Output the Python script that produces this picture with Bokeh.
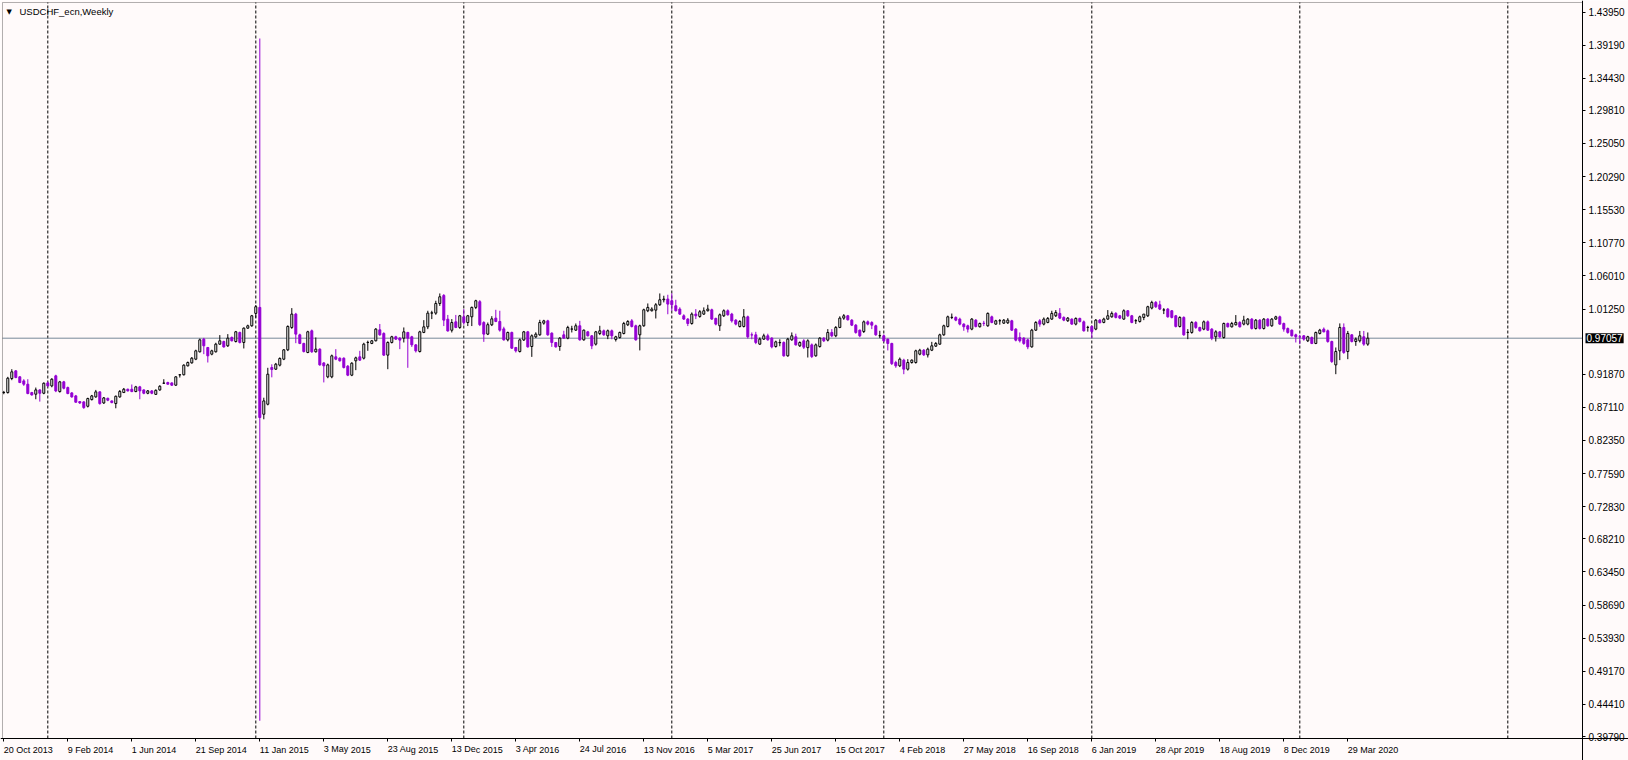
import pandas as pd
from bokeh.plotting import figure
from bokeh.models import (Range1d, FixedTicker, NumeralTickFormatter, Label,
                          BoxAnnotation, ColumnDataSource)
from bokeh.embed import file_html
from bokeh.resources import INLINE

# ---------------- data ----------------
symbol_title = "USDCHF_ecn,Weekly"
first_week = "2013-10-20"   # date of bar 0 (weekly bars, Sundays)
last_price = 0.97057

open_ = [
    0.8924, 0.8924, 0.9126, 0.9236, 0.9150, 0.9092, 0.9044, 0.8924, 0.8900, 0.8962,
    0.8914, 0.9063, 0.9020, 0.9164, 0.8938, 0.9078, 0.8996, 0.8919, 0.8876, 0.8794,
    0.8790, 0.8727, 0.8823, 0.8862, 0.8934, 0.8775, 0.8842, 0.8804, 0.8766, 0.8862,
    0.8924, 0.8972, 0.8972, 0.8938, 0.9006, 0.8962, 0.8914, 0.8948, 0.8898, 0.8962,
    0.9058, 0.9068, 0.9063, 0.9030, 0.9178, 0.9180, 0.9308, 0.9351, 0.9404, 0.9510,
    0.9692, 0.9572, 0.9476, 0.9510, 0.9620, 0.9658, 0.9596, 0.9716, 0.9658, 0.9788,
    0.9644, 0.9850, 0.9884, 1.0062, 1.0148, 0.8612, 0.8756, 0.9284, 0.9260, 0.9318,
    0.9404, 0.9538, 0.9860, 1.0052, 0.9754, 0.9630, 0.9500, 0.9812, 0.9510, 0.9548,
    0.9350, 0.9150, 0.9150, 0.9438, 0.9418, 0.9418, 0.9303, 0.9174, 0.9380, 0.9438,
    0.9418, 0.9644, 0.9630, 0.9668, 0.9826, 0.9774, 0.9462, 0.9644, 0.9726, 0.9706,
    0.9706, 0.9788, 0.9726, 0.9610, 0.9514, 0.9788, 0.9869, 1.0066, 1.0066, 1.0205,
    1.0320, 0.9979, 0.9820, 0.9941, 0.9860, 1.0013, 0.9931, 1.0013, 1.0148, 1.0230,
    0.9931, 0.9764, 0.9898, 0.9994, 0.9946, 0.9840, 0.9682, 0.9788, 0.9572, 0.9514,
    0.9680, 0.9797, 0.9586, 0.9725, 0.9754, 0.9922, 0.9955, 0.9778, 0.9644, 0.9586,
    0.9754, 0.9706, 0.9836, 0.9821, 0.9884, 0.9682, 0.9797, 0.9740, 0.9620, 0.9773,
    0.9812, 0.9740, 0.9812, 0.9687, 0.9716, 0.9773, 0.9898, 0.9955, 0.9884, 0.9754,
    0.9884, 1.0100, 1.0100, 1.0109, 1.0186, 1.0258, 1.0268, 1.0244, 1.0172, 1.0124,
    1.0028, 0.9980, 0.9917, 1.0052, 1.0018, 1.0052, 1.0100, 1.0114, 0.9990, 0.9884,
    1.0028, 1.0100, 1.0052, 0.9965, 0.9874, 0.9874, 1.0013, 0.9754, 0.9754, 0.9620,
    0.9692, 0.9740, 0.9706, 0.9586, 0.9640, 0.9644, 0.9452, 0.9682, 0.9726, 0.9596,
    0.9668, 0.9570, 0.9610, 0.9452, 0.9586, 0.9706, 0.9678, 0.9788, 0.9740, 0.9860,
    0.9994, 1.0028, 0.9965, 0.9893, 0.9821, 0.9802, 0.9941, 0.9931, 0.9884, 0.9740,
    0.9740, 0.9692, 0.9630, 0.9356, 0.9308, 0.9390, 0.9260, 0.9356, 0.9356, 0.9476,
    0.9533, 0.9466, 0.9533, 0.9591, 0.9620, 0.9754, 0.9874, 1.0004, 1.0004, 0.9980,
    0.9908, 0.9884, 0.9836, 0.9965, 0.9870, 0.9920, 0.9884, 1.0013, 0.9908, 0.9956,
    0.9922, 0.9927, 0.9956, 0.9836, 0.9716, 0.9706, 0.9682, 0.9581, 0.9821, 0.9956,
    0.9908, 0.9932, 0.9980, 1.0028, 1.0062, 1.0004, 0.9956, 0.9980, 0.9908, 0.9990,
    0.9941, 0.9860, 0.9874, 0.9836, 0.9965, 0.9932, 0.9980, 1.0013, 1.0062, 1.0028,
    0.9980, 1.0100, 1.0028, 0.9956, 0.9946, 1.0004, 1.0028, 1.0139, 1.0220, 1.0186,
    1.0110, 1.0124, 1.0100, 1.0028, 0.9874, 1.0004, 0.9788, 0.9788, 0.9932, 0.9860,
    0.9836, 0.9941, 0.9836, 0.9726, 0.9797, 0.9716, 0.9917, 0.9869, 0.9898, 0.9932,
    0.9908, 0.9908, 0.9980, 0.9845, 0.9965, 0.9845, 0.9980, 0.9884, 0.9980, 1.0013,
    0.9917, 0.9845, 0.9821, 0.9754, 0.9726, 0.9740, 0.9668, 0.9716, 0.9630, 0.9774,
    0.9836, 0.9812, 0.9658, 0.9322, 0.9524, 0.9860, 0.9514, 0.9754, 0.9658, 0.9668,
    0.9726, 0.9620,
]

high = [
    0.8948, 0.9150, 0.9260, 0.9245, 0.9160, 0.9116, 0.9116, 0.8934, 0.8996, 0.8970,
    0.9070, 0.9080, 0.9130, 0.9180, 0.9092, 0.9092, 0.9010, 0.8930, 0.8890, 0.8800,
    0.8800, 0.8850, 0.8890, 0.8962, 0.8940, 0.8860, 0.8850, 0.8810, 0.8880, 0.8960,
    0.8990, 0.8980, 0.9040, 0.9020, 0.9020, 0.8970, 0.8960, 0.8960, 0.8970, 0.9030,
    0.9116, 0.9080, 0.9070, 0.9160, 0.9188, 0.9330, 0.9370, 0.9435, 0.9540, 0.9700,
    0.9710, 0.9580, 0.9540, 0.9640, 0.9750, 0.9670, 0.9764, 0.9730, 0.9810, 0.9800,
    0.9860, 0.9900, 1.0040, 1.0180, 1.4014, 0.8850, 0.9280, 0.9330, 0.9350, 0.9430,
    0.9550, 0.9890, 1.0138, 1.0070, 0.9770, 0.9640, 0.9812, 0.9830, 0.9716, 0.9560,
    0.9360, 0.9340, 0.9470, 0.9548, 0.9430, 0.9430, 0.9320, 0.9360, 0.9440, 0.9524,
    0.9640, 0.9670, 0.9680, 0.9850, 0.9910, 0.9790, 0.9660, 0.9740, 0.9740, 0.9720,
    0.9860, 0.9797, 0.9740, 0.9620, 0.9812, 0.9965, 1.0100, 1.0100, 1.0244, 1.0349,
    1.0340, 1.0040, 0.9980, 1.0040, 1.0040, 1.0124, 1.0040, 1.0160, 1.0258, 1.0253,
    0.9950, 0.9931, 1.0022, 1.0114, 1.0100, 0.9870, 0.9800, 0.9800, 0.9580, 0.9700,
    0.9810, 0.9810, 0.9760, 0.9790, 0.9970, 0.9970, 0.9970, 0.9790, 0.9650, 0.9720,
    0.9812, 0.9884, 0.9884, 0.9917, 0.9955, 0.9830, 0.9810, 0.9750, 0.9810, 0.9884,
    0.9830, 0.9830, 0.9830, 0.9740, 0.9800, 0.9940, 0.9965, 0.9980, 0.9900, 0.9900,
    1.0130, 1.0205, 1.0150, 1.0210, 1.0349, 1.0316, 1.0330, 1.0349, 1.0258, 1.0150,
    1.0050, 0.9994, 1.0076, 1.0124, 1.0110, 1.0148, 1.0186, 1.0130, 1.0000, 1.0060,
    1.0120, 1.0120, 1.0070, 0.9980, 0.9965, 1.0124, 1.0030, 0.9788, 0.9797, 0.9716,
    0.9770, 0.9770, 0.9720, 0.9670, 0.9690, 0.9660, 0.9710, 0.9788, 0.9770, 0.9660,
    0.9692, 0.9690, 0.9630, 0.9630, 0.9720, 0.9720, 0.9836, 0.9836, 0.9880, 1.0020,
    1.0052, 1.0040, 0.9980, 0.9910, 0.9830, 0.9960, 0.9960, 0.9950, 0.9900, 0.9812,
    0.9760, 0.9700, 0.9640, 0.9380, 0.9428, 0.9410, 0.9404, 0.9400, 0.9540, 0.9553,
    0.9550, 0.9570, 0.9653, 0.9650, 0.9770, 0.9900, 1.0030, 1.0060, 1.0020, 1.0000,
    0.9920, 0.9900, 0.9994, 0.9980, 0.9930, 0.9955, 1.0076, 1.0030, 0.9970, 0.9980,
    0.9980, 0.9994, 0.9970, 0.9850, 0.9788, 0.9720, 0.9700, 0.9840, 0.9950, 0.9980,
    1.0004, 1.0010, 1.0100, 1.0110, 1.0138, 1.0020, 1.0010, 0.9990, 1.0004, 1.0000,
    0.9960, 0.9884, 0.9890, 0.9980, 0.9980, 1.0000, 1.0110, 1.0090, 1.0080, 1.0040,
    1.0120, 1.0110, 1.0040, 0.9980, 1.0030, 1.0052, 1.0172, 1.0244, 1.0240, 1.0244,
    1.0138, 1.0140, 1.0110, 1.0040, 1.0020, 1.0020, 0.9836, 0.9950, 0.9950, 0.9870,
    0.9960, 0.9960, 0.9850, 0.9820, 0.9810, 0.9930, 0.9930, 0.9940, 1.0038, 0.9950,
    1.0028, 0.9994, 0.9994, 0.9980, 0.9980, 0.9994, 0.9994, 0.9994, 1.0028, 1.0030,
    0.9930, 0.9860, 0.9830, 0.9770, 0.9754, 0.9750, 0.9740, 0.9730, 0.9800, 0.9840,
    0.9860, 0.9830, 0.9670, 0.9572, 0.9918, 0.9918, 0.9810, 0.9764, 0.9716, 0.9810,
    0.9810, 0.9788,
]

low = [
    0.8900, 0.8910, 0.9102, 0.9130, 0.9060, 0.9020, 0.8900, 0.8880, 0.8828, 0.8794,
    0.8900, 0.9010, 0.9000, 0.8930, 0.8924, 0.8970, 0.8900, 0.8850, 0.8780, 0.8760,
    0.8690, 0.8710, 0.8810, 0.8850, 0.8750, 0.8760, 0.8800, 0.8770, 0.8698, 0.8850,
    0.8920, 0.8940, 0.8930, 0.8930, 0.8828, 0.8900, 0.8900, 0.8900, 0.8890, 0.8950,
    0.9050, 0.9040, 0.9020, 0.9020, 0.9140, 0.9170, 0.9300, 0.9340, 0.9390, 0.9500,
    0.9476, 0.9356, 0.9460, 0.9500, 0.9610, 0.9570, 0.9580, 0.9660, 0.9644, 0.9630,
    0.9558, 0.9840, 0.9870, 1.0000, 0.4206, 0.8540, 0.8740, 0.9143, 0.9250, 0.9300,
    0.9390, 0.9520, 0.9840, 0.9634, 0.9620, 0.9500, 0.9490, 0.9495, 0.9500, 0.9310,
    0.9070, 0.9130, 0.9130, 0.9390, 0.9370, 0.9270, 0.9160, 0.9160, 0.9246, 0.9380,
    0.9400, 0.9524, 0.9620, 0.9660, 0.9740, 0.9450, 0.9260, 0.9630, 0.9680, 0.9548,
    0.9644, 0.9280, 0.9580, 0.9500, 0.9500, 0.9778, 0.9836, 0.9980, 1.0042, 1.0170,
    0.9880, 0.9800, 0.9788, 0.9850, 0.9840, 0.9900, 0.9880, 0.9880, 1.0124, 0.9880,
    0.9653, 0.9750, 0.9880, 0.9936, 0.9800, 0.9670, 0.9660, 0.9550, 0.9500, 0.9500,
    0.9666, 0.9570, 0.9437, 0.9710, 0.9740, 0.9900, 0.9740, 0.9581, 0.9570, 0.9524,
    0.9700, 0.9690, 0.9788, 0.9810, 0.9670, 0.9670, 0.9730, 0.9548, 0.9600, 0.9750,
    0.9740, 0.9692, 0.9690, 0.9658, 0.9700, 0.9760, 0.9880, 0.9860, 0.9670, 0.9530,
    0.9870, 1.0080, 1.0090, 0.9989, 1.0170, 1.0220, 1.0050, 1.0100, 1.0090, 1.0040,
    0.9970, 0.9880, 0.9900, 0.9980, 1.0000, 1.0040, 1.0090, 0.9970, 0.9890, 0.9810,
    1.0010, 1.0030, 0.9930, 0.9890, 0.9860, 0.9860, 0.9700, 0.9690, 0.9620, 0.9610,
    0.9680, 0.9670, 0.9560, 0.9570, 0.9590, 0.9440, 0.9440, 0.9670, 0.9600, 0.9580,
    0.9550, 0.9428, 0.9420, 0.9440, 0.9570, 0.9650, 0.9660, 0.9720, 0.9720, 0.9850,
    0.9970, 0.9960, 0.9880, 0.9770, 0.9720, 0.9780, 0.9890, 0.9836, 0.9740, 0.9706,
    0.9650, 0.9530, 0.9320, 0.9280, 0.9290, 0.9188, 0.9240, 0.9340, 0.9340, 0.9460,
    0.9450, 0.9428, 0.9520, 0.9580, 0.9610, 0.9740, 0.9860, 0.9980, 0.9950, 0.9890,
    0.9812, 0.9788, 0.9820, 0.9860, 0.9860, 0.9880, 0.9870, 0.9920, 0.9900, 0.9900,
    0.9910, 0.9910, 0.9810, 0.9660, 0.9644, 0.9610, 0.9548, 0.9570, 0.9810, 0.9870,
    0.9890, 0.9920, 0.9970, 1.0010, 0.9980, 0.9950, 0.9940, 0.9900, 0.9890, 0.9930,
    0.9800, 0.9800, 0.9706, 0.9820, 0.9920, 0.9920, 0.9970, 1.0000, 0.9990, 0.9980,
    0.9970, 1.0010, 0.9920, 0.9910, 0.9930, 0.9965, 1.0010, 1.0120, 1.0140, 1.0110,
    1.0052, 1.0000, 0.9990, 0.9860, 0.9860, 0.9740, 0.9692, 0.9770, 0.9840, 0.9800,
    0.9820, 0.9810, 0.9677, 0.9658, 0.9710, 0.9700, 0.9860, 0.9860, 0.9890, 0.9860,
    0.9890, 0.9890, 0.9830, 0.9830, 0.9830, 0.9830, 0.9870, 0.9870, 0.9970, 0.9900,
    0.9800, 0.9770, 0.9730, 0.9644, 0.9620, 0.9670, 0.9650, 0.9620, 0.9620, 0.9760,
    0.9790, 0.9640, 0.9350, 0.9188, 0.9390, 0.9480, 0.9404, 0.9644, 0.9596, 0.9644,
    0.9596, 0.9596,
]

close = [
    0.8926, 0.9130, 0.9222, 0.9140, 0.9068, 0.9044, 0.8910, 0.8890, 0.8962, 0.8914,
    0.9058, 0.9020, 0.9116, 0.8948, 0.9078, 0.8986, 0.8910, 0.8862, 0.8785, 0.8775,
    0.8708, 0.8838, 0.8876, 0.8934, 0.8766, 0.8847, 0.8814, 0.8780, 0.8871, 0.8940,
    0.8972, 0.8948, 0.8938, 0.9006, 0.8948, 0.8914, 0.8948, 0.8914, 0.8956, 0.9014,
    0.9060, 0.9044, 0.9030, 0.9150, 0.9180, 0.9318, 0.9356, 0.9418, 0.9524, 0.9682,
    0.9596, 0.9452, 0.9524, 0.9620, 0.9668, 0.9580, 0.9706, 0.9668, 0.9798, 0.9644,
    0.9850, 0.9884, 1.0028, 1.0158, 0.8565, 0.8804, 0.9188, 0.9255, 0.9332, 0.9414,
    0.9538, 0.9874, 1.0052, 0.9764, 0.9630, 0.9514, 0.9798, 0.9510, 0.9548, 0.9322,
    0.9308, 0.9322, 0.9452, 0.9404, 0.9380, 0.9284, 0.9174, 0.9346, 0.9423, 0.9390,
    0.9620, 0.9645, 0.9668, 0.9836, 0.9754, 0.9462, 0.9644, 0.9726, 0.9692, 0.9678,
    0.9797, 0.9706, 0.9610, 0.9524, 0.9797, 0.9869, 1.0066, 1.0070, 1.0205, 1.0301,
    0.9965, 0.9810, 0.9931, 0.9860, 1.0028, 0.9931, 1.0028, 1.0148, 1.0244, 0.9900,
    0.9764, 0.9900, 0.9984, 0.9946, 0.9821, 0.9682, 0.9788, 0.9562, 0.9524, 0.9682,
    0.9797, 0.9581, 0.9740, 0.9764, 0.9931, 0.9955, 0.9754, 0.9644, 0.9581, 0.9706,
    0.9706, 0.9860, 0.9838, 0.9884, 0.9682, 0.9821, 0.9740, 0.9596, 0.9797, 0.9812,
    0.9754, 0.9812, 0.9740, 0.9726, 0.9788, 0.9917, 0.9946, 0.9874, 0.9682, 0.9884,
    1.0114, 1.0148, 1.0124, 1.0186, 1.0258, 1.0268, 1.0196, 1.0186, 1.0100, 1.0052,
    0.9980, 0.9917, 1.0052, 1.0028, 1.0086, 1.0100, 1.0124, 0.9980, 0.9908, 1.0042,
    1.0100, 1.0042, 0.9955, 0.9908, 0.9946, 1.0013, 0.9725, 0.9752, 0.9644, 0.9692,
    0.9740, 0.9682, 0.9581, 0.9653, 0.9644, 0.9452, 0.9692, 0.9740, 0.9610, 0.9644,
    0.9576, 0.9668, 0.9442, 0.9610, 0.9706, 0.9668, 0.9788, 0.9740, 0.9860, 0.9994,
    1.0028, 0.9970, 0.9893, 0.9788, 0.9740, 0.9941, 0.9908, 0.9893, 0.9754, 0.9742,
    0.9668, 0.9630, 0.9340, 0.9308, 0.9404, 0.9260, 0.9356, 0.9390, 0.9524, 0.9533,
    0.9466, 0.9548, 0.9596, 0.9630, 0.9754, 0.9884, 1.0013, 1.0006, 0.9965, 0.9908,
    0.9870, 0.9836, 0.9980, 0.9874, 0.9917, 0.9918, 1.0062, 0.9932, 0.9956, 0.9957,
    0.9965, 0.9965, 0.9821, 0.9677, 0.9668, 0.9630, 0.9581, 0.9821, 0.9932, 0.9908,
    0.9980, 0.9990, 1.0062, 1.0076, 0.9994, 0.9965, 0.9994, 0.9908, 0.9990, 0.9946,
    0.9812, 0.9862, 0.9802, 0.9965, 0.9927, 0.9980, 1.0028, 1.0062, 1.0004, 0.9994,
    1.0100, 1.0028, 0.9932, 0.9958, 1.0013, 1.0052, 1.0158, 1.0220, 1.0158, 1.0124,
    1.0112, 1.0013, 1.0004, 0.9874, 1.0004, 0.9754, 0.9790, 0.9932, 0.9860, 0.9812,
    0.9941, 0.9821, 0.9706, 0.9797, 0.9726, 0.9917, 0.9869, 0.9917, 0.9932, 0.9869,
    0.9965, 0.9980, 0.9845, 0.9965, 0.9845, 0.9980, 0.9884, 0.9980, 1.0013, 0.9908,
    0.9836, 0.9788, 0.9740, 0.9726, 0.9724, 0.9692, 0.9726, 0.9630, 0.9788, 0.9821,
    0.9797, 0.9658, 0.9370, 0.9514, 0.9860, 0.9500, 0.9774, 0.9658, 0.9692, 0.9740,
    0.9620, 0.97057,
]

price_ticks = [1.43950, 1.39190, 1.34430, 1.29810, 1.25050, 1.20290, 1.15530, 1.10770,
               1.06010, 1.01250, 0.91870, 0.87110, 0.82350, 0.77590, 0.72830, 0.68210,
               0.63450, 0.58690, 0.53930, 0.49170, 0.44410, 0.39790]

date_tick_labels = ["20 Oct 2013", "9 Feb 2014", "1 Jun 2014", "21 Sep 2014", "11 Jan 2015",
                    "3 May 2015", "23 Aug 2015", "13 Dec 2015", "3 Apr 2016", "24 Jul 2016",
                    "13 Nov 2016", "5 Mar 2017", "25 Jun 2017", "15 Oct 2017", "4 Feb 2018",
                    "27 May 2018", "16 Sep 2018", "6 Jan 2019", "28 Apr 2019", "18 Aug 2019",
                    "8 Dec 2019", "29 Mar 2020"]

# ---------------- layout / styling ----------------
BG = "#FFFAFA"
BEAR = "#9400D3"
FONT = "Liberation Sans"
W, H = 1628, 760
# chart area in pixels: left 2, top 2, price axis at 1582, time axis at 738
PX_BAR = 4.0                      # px per weekly bar
BAR0_PX = 3.3                     # pixel centre of bar 0
PX_UNIT = 695.6                   # px per price unit
TOP_PRICE, TOP_PRICE_PX = 1.4395, 11.5

def bar_at(px):
    return (px - BAR0_PX) / PX_BAR

def price_at(py):
    return TOP_PRICE - (py - TOP_PRICE_PX) / PX_UNIT

XL, XA = bar_at(2), bar_at(1582)        # left edge, price-axis position (bar units)
YT, YB = price_at(2), price_at(738)     # top edge, time-axis position (price units)
X_RANGE = (bar_at(0), bar_at(W))
Y_RANGE = (price_at(H), price_at(0))

n = min(len(open_), len(high), len(low), len(close))
start = pd.Timestamp(first_week)

bull = dict(x=[], lo=[], hi=[], top=[], bot=[])
bear = dict(x=[], lo=[], hi=[], top=[], bot=[])
for i in range(n):
    o, h, l, c = open_[i], high[i], low[i], close[i]
    d = bull if c >= o else bear
    d["x"].append(i)
    d["lo"].append(l)
    d["hi"].append(h)
    d["top"].append(max(o, c))
    d["bot"].append(min(o, c))

p = figure(width=W, height=H, output_backend="svg", toolbar_location=None,
           x_range=Range1d(*X_RANGE), y_range=Range1d(*Y_RANGE),
           y_axis_location="right",
           min_border_left=0, min_border_top=0, min_border_right=0, min_border_bottom=0,
           background_fill_color=BG, border_fill_color=BG, outline_line_color=None)
p.xgrid.visible = False
p.ygrid.visible = False

# year separators (dashed), limited to the chart area
all_weeks = pd.date_range(start, periods=int(XA) + 1, freq="7D")
year_idx = [i for i in range(1, len(all_weeks)) if all_weeks[i].year != all_weeks[i - 1].year]
p.segment(x0=year_idx, y0=[YB] * len(year_idx), x1=year_idx, y1=[YT] * len(year_idx),
          line_color="black", line_width=1, line_dash="3 2")

# current price line
p.segment(x0=[XL], y0=[last_price], x1=[XA], y1=[last_price],
          line_color="#778899", line_width=1)

# candles
sb = ColumnDataSource(bull)
sr = ColumnDataSource(bear)
p.segment(x0="x", y0="lo", x1="x", y1="hi", source=sb, line_color="black", line_width=1)
p.segment(x0="x", y0="lo", x1="x", y1="hi", source=sr, line_color=BEAR, line_width=1)
p.vbar(x="x", width=0.5, top="top", bottom="bot", source=sb,
       fill_color="white", line_color="black", line_width=1)
p.vbar(x="x", width=0.5, top="top", bottom="bot", source=sr,
       fill_color=BEAR, line_color=BEAR, line_width=1)

# chart-area border
p.add_layout(BoxAnnotation(left=XL, right=XA, bottom=YB, top=YT, fill_color=None,
                           fill_alpha=0, line_color="black", line_width=1))

# price axis (right), pinned at the chart-area edge
ya = p.yaxis[0]
ya.fixed_location = XA
ya.ticker = FixedTicker(ticks=price_ticks)
ya.formatter = NumeralTickFormatter(format="0.00000")
ya.major_label_text_font = FONT
ya.major_label_text_font_size = "10px"
ya.major_label_text_color = "black"
ya.major_tick_out = 3
ya.major_tick_in = 0
ya.minor_tick_out = 0
ya.minor_tick_in = 0
ya.major_label_standoff = 3
ya.axis_line_color = "black"
ya.major_tick_line_color = "black"

# time axis (below), pinned at the chart-area edge; labels start at their tick
tick_idx = [int((pd.Timestamp(s) - start).days // 7) for s in date_tick_labels]
xa = p.xaxis[0]
xa.fixed_location = YB
xa.ticker = FixedTicker(ticks=tick_idx)
xa.major_label_overrides = {t: s for t, s in zip(tick_idx, date_tick_labels)}
xa.major_label_orientation = -1e-6
xa.major_label_text_font = FONT
xa.major_label_text_font_size = "9px"
xa.major_label_text_color = "black"
xa.major_label_standoff = 8
xa.major_tick_out = 3
xa.major_tick_in = 0
xa.minor_tick_out = 0
xa.minor_tick_in = 0
xa.axis_line_color = "black"
xa.major_tick_line_color = "black"

# title
p.add_layout(Label(x=6, y=H - 11, x_units="screen", y_units="screen", text="\u25BC",
                   text_font="DejaVu Sans", text_font_size="7px", text_color="black",
                   text_baseline="middle", text_align="left"))
p.add_layout(Label(x=19, y=H - 11, x_units="screen", y_units="screen",
                   text=symbol_title, text_font=FONT, text_font_size="9.5px",
                   text_color="black", text_baseline="middle", text_align="left"))

# current price box on the price axis
p.add_layout(Label(x=1585, y=last_price, x_units="screen", text=f"{last_price:.5f}",
                   text_font=FONT, text_font_size="10px", text_color="white",
                   text_baseline="middle", text_align="left",
                   background_fill_color="black", padding=1))

open("out.html", "w").write(file_html(p, INLINE))
